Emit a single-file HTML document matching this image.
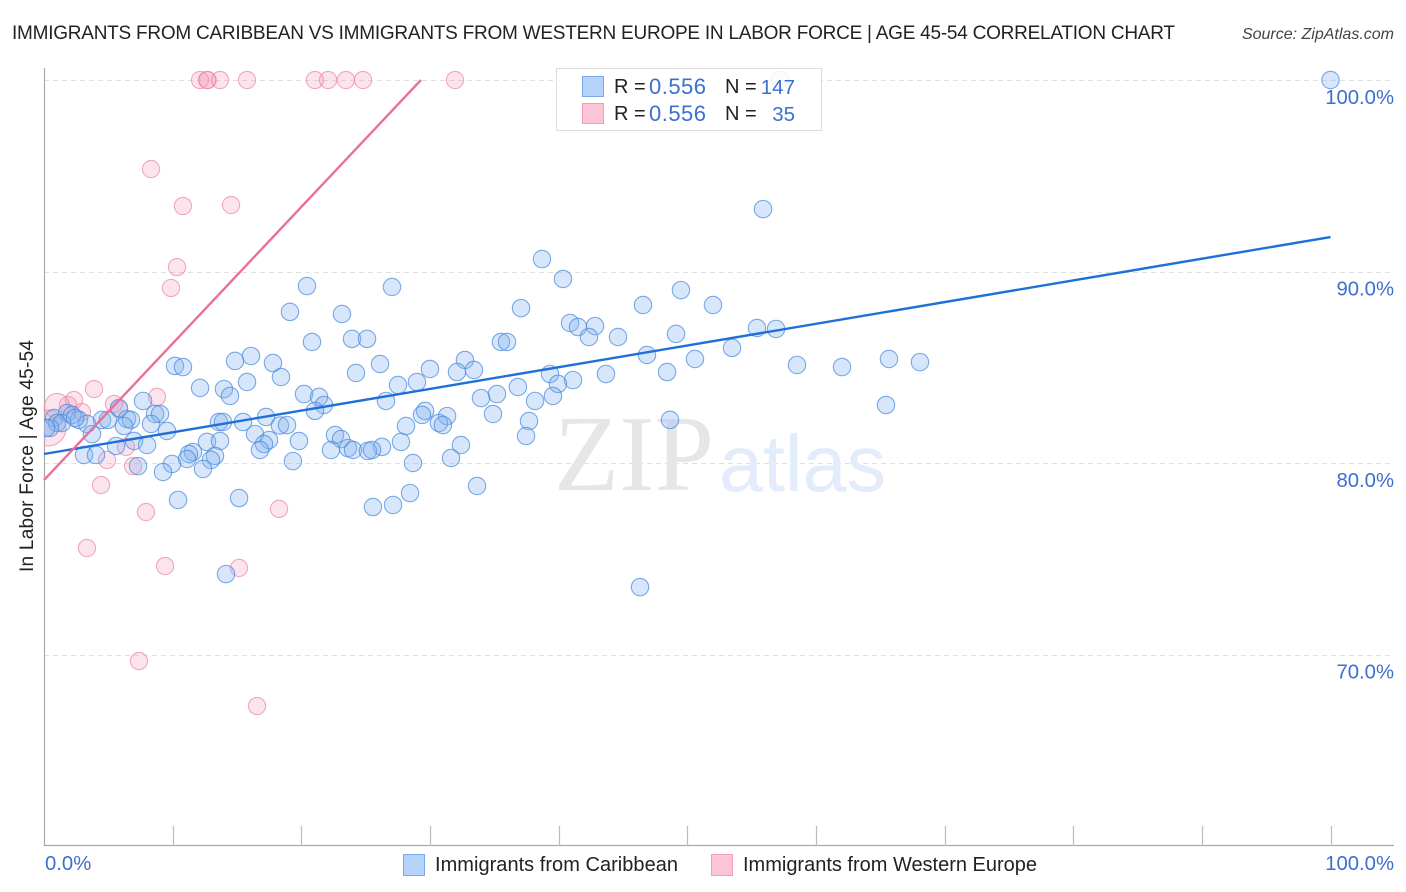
<!DOCTYPE html>
<html lang="en">
<head>
<meta charset="utf-8">
<title>Immigrants from Caribbean vs Immigrants from Western Europe in Labor Force | Age 45-54 Correlation Chart</title>
<style>
html,body{margin:0;padding:0;background:#fff;width:1406px;height:892px;overflow:hidden}
svg{display:block;font-family:"Liberation Sans",sans-serif}
.tick-label{fill:#3c6fd1;font-size:20.3px}
.legend-text{fill:#222;font-size:20px}
.legend-val{fill:#3c6fd1;font-size:22px}
.legend-n{fill:#3c6fd1;font-size:20.5px}
.bottom-text{fill:#222;font-size:20px}
</style>
</head>
<body>
<svg id="chart" xmlns="http://www.w3.org/2000/svg" width="1406" height="892" viewBox="0 0 1406 892">
  <defs>
    <clipPath id="plot-clip"><rect x="44" y="60" width="1350" height="786"/></clipPath>
  </defs>
  <text x="12" y="39" font-size="19" fill="#222" textLength="1163">IMMIGRANTS FROM CARIBBEAN VS IMMIGRANTS FROM WESTERN EUROPE IN LABOR FORCE | AGE 45-54 CORRELATION CHART</text>
  <text x="1394" y="39" font-size="16" font-style="italic" fill="#444" text-anchor="end">Source: ZipAtlas.com</text>

  <g id="grid"></g>

  <text x="554" y="490" font-family="'Liberation Serif',serif" font-size="108" fill="#e6e6e6" textLength="160" lengthAdjust="spacingAndGlyphs">ZIP</text>
  <text x="719" y="491" font-size="80" fill="#e3ecfa" textLength="167" lengthAdjust="spacingAndGlyphs">atlas</text>

  <g id="axes"></g>
  <g clip-path="url(#plot-clip)">
    <g id="pink-points"></g>
    <g id="blue-points"></g>
  </g>
  <g id="lines"></g>
  <g id="labels"></g>

  <text transform="translate(33,456) rotate(-90)" font-size="19" fill="#222" text-anchor="middle" textLength="232">In Labor Force | Age 45-54</text>

  <g>
    <rect x="556.5" y="68.5" width="265" height="62" fill="#fff" fill-opacity="0.88" stroke="#dcdcdc"/>
    <rect x="582.5" y="76.5" width="21" height="20" fill="#b5d2f8" stroke="#78a9ea"/>
    <text class="legend-text" x="614" y="93">R =</text>
    <text class="legend-val" x="649" y="94" textLength="57">0.556</text>
    <text class="legend-text" x="725" y="93">N =</text>
    <text class="legend-n" x="795" y="94" text-anchor="end">147</text>
    <rect x="582.5" y="103.5" width="21" height="20" fill="#fcc5d6" stroke="#f39db8"/>
    <text class="legend-text" x="614" y="120">R =</text>
    <text class="legend-val" x="649" y="121" textLength="57">0.556</text>
    <text class="legend-text" x="725" y="120">N =</text>
    <text class="legend-n" x="795" y="121" text-anchor="end">35</text>
  </g>

  <g>
    <rect x="403.5" y="854.5" width="21" height="21" fill="#b5d2f8" stroke="#78a9ea"/>
    <text class="bottom-text" x="435" y="871" textLength="243">Immigrants from Caribbean</text>
    <rect x="711.5" y="854.5" width="21" height="21" fill="#fcc5d6" stroke="#f39db8"/>
    <text class="bottom-text" x="743" y="871" textLength="294">Immigrants from Western Europe</text>
  </g>
</svg>
<script>
const caribbeanX = [100,55.89,38.71,40.34,20.44,27.05,49.51,46.56,52,37.08,19.12,23.16,40.89,41.51,42.83,55.42,56.9,49.13,42.36,44.62,23.94,25.11,20.83,35.52,35.99,53.48,46.87,16.09,14.85,17.8,50.6,65.68,68.09,58.53,62.03,32.72,26.12,10.18,10.8,30,32.1,33.42,24.25,39.33,43.68,48.43,18.42,15.78,28.99,41.12,39.95,27.52,36.84,12.13,13.99,14.46,20.21,21.38,35.21,39.56,33.97,26.58,38.17,7.7,21.76,65.45,21.06,5.83,1.79,2.18,8.63,9.02,29.62,29.38,34.9,31.33,17.26,37.7,48.66,2.72,4.51,4.97,6.45,6.76,15.47,13.6,13.91,8.32,0.78,1.01,1.4,0.47,3.34,6.22,18.34,18.89,28.14,30.7,31.01,9.56,3.73,22.62,16.4,37.47,23.09,17.49,12.67,13.68,19.82,27.75,7,17.1,32.41,5.6,8.01,26.27,23.63,22.31,24.02,16.79,25.18,25.5,11.58,3.11,4.04,11.27,13.29,12.98,11.12,31.64,19.35,28.68,9.95,7.31,12.36,9.25,33.66,28.45,10.42,15.16,27.13,25.57,14.15,46.33,57.21,0.16,2.41];
const caribbeanY = [100,93.26,90.65,89.61,89.24,89.19,89.03,88.25,88.25,88.09,87.89,87.78,87.31,87.1,87.15,87.05,87,86.74,86.58,86.58,86.48,86.48,86.32,86.32,86.32,86.01,85.64,85.59,85.33,85.22,85.43,85.43,85.27,85.12,85.01,85.38,85.17,85.07,85.01,84.91,84.75,84.86,84.7,84.65,84.65,84.75,84.49,84.23,84.23,84.33,84.13,84.07,83.97,83.92,83.86,83.5,83.6,83.45,83.6,83.5,83.39,83.24,83.24,83.24,83.03,83.03,82.72,82.87,82.61,82.51,82.56,82.56,82.72,82.51,82.56,82.45,82.4,82.19,82.25,82.25,82.25,82.25,82.3,82.25,82.14,82.14,82.14,82.04,82.35,82.09,82.09,81.83,82.04,81.93,81.96,81.98,81.93,82.09,81.98,81.67,81.51,81.46,81.51,81.41,81.25,81.2,81.1,81.15,81.15,81.1,81.15,80.99,80.94,80.89,80.94,80.84,80.78,80.68,80.68,80.68,80.63,80.68,80.57,80.42,80.42,80.47,80.37,80.16,80.21,80.26,80.1,80,79.95,79.84,79.69,79.53,78.8,78.43,78.07,78.17,77.81,77.7,74.2,73.52,100,81.83,82.35];
const europeX = [12.13,12.67,12.72,13.68,15.78,21.06,22.08,23.47,24.8,31.95,8.32,10.8,14.54,10.34,9.87,3.89,8.78,2.33,5.44,1.87,5.83,2.95,1.01,0.31,6.92,6.37,4.9,4.43,7.93,18.27,3.34,9.41,15.16,7.38,16.56];
const europeY = [100,100,100,100,100,100,100,100,100,100,95.35,93.42,93.47,90.23,89.14,83.86,83.45,83.29,83.08,83.03,82.82,82.66,82.98,81.83,79.84,80.84,80.16,78.85,77.44,77.6,75.56,74.62,74.52,69.66,67.31];
const europeWeight = [1,1,1,1,1,1,1,1,1,1,1,1,1,1,1,1,1,1,1,1,1,1,1.45,2.1,1,1,1,1,1,1,1,1,1,1,1];
const caribbeanTrendX = [0,100];
const caribbeanTrendY = [80.47,91.8];
const europeTrendX = [0,29.3];
const europeTrendY = [79.11,100];
const yTicks = [100,90,80,70];
const yTickLabels = ["100.0%","90.0%","80.0%","70.0%"];
const xTicks = [0,10,20,30,40,50,60,70,80,90,100];
const xEndLabels = ["0.0%","100.0%"];

const NS = "http://www.w3.org/2000/svg";
const xScale = v => 44 + v * 12.865;
const yScale = v => 80 + (100 - v) * 19.15;
function make(tag, parent, attrs) {
  const el = document.createElementNS(NS, tag);
  Object.keys(attrs).forEach(k => el.setAttribute(k, attrs[k]));
  parent.appendChild(el);
  return el;
}
const grid = document.getElementById("grid");
const axes = document.getElementById("axes");
const labels = document.getElementById("labels");
const pinkG = document.getElementById("pink-points");
const blueG = document.getElementById("blue-points");
const linesG = document.getElementById("lines");

yTicks.forEach((t, i) => {
  const y = Math.round(yScale(t)) + 0.5;
  const line = make("line", grid, {x1: 44, x2: 1394, y1: y, y2: y, stroke: "#e0e0e0", "stroke-width": 1, "stroke-dasharray": "5 4"});
  
  
  const label = make("text", labels, {x: 1394, y: yScale(t) + 24, "text-anchor": "end", "class": "tick-label"});
  label.textContent = yTickLabels[i];
  
  
});

const yAxis = make("line", axes, {x1: 44.5, x2: 44.5, y1: 68, y2: 846, stroke: "#aaaaaa", "stroke-width": 1.2});


const xAxis = make("line", axes, {x1: 44, x2: 1394, y1: 845.5, y2: 845.5, stroke: "#aaaaaa", "stroke-width": 1.2});



xTicks.forEach(t => {
  if (t === 0) return;
  const x = Math.round(xScale(t)) + 0.5;
  const tick = make("line", axes, {x1: x, x2: x, y1: 826, y2: 846, stroke: "#bbbbbb", "stroke-width": 1.2});
  
  
});

const xStart = make("text", labels, {x: xScale(0) + 1, y: 870, "class": "tick-label"});
xStart.textContent = xEndLabels[0];


const xEnd = make("text", labels, {x: 1394, y: 870, "text-anchor": "end", "class": "tick-label"});
xEnd.textContent = xEndLabels[1];



europeX.forEach((v, i) => {
  const c = make("circle", pinkG, {cx: xScale(v), cy: yScale(europeY[i]), r: 8.6 * europeWeight[i], fill: "#f48fb1", "fill-opacity": 0.24, stroke: "#ee85a8", "stroke-opacity": 0.7, "stroke-width": 1.1});
  
  
});

caribbeanX.forEach((v, i) => {
  const c = make("circle", blueG, {cx: xScale(v), cy: yScale(caribbeanY[i]), r: 8.7, fill: "#83b0ee", "fill-opacity": 0.32, stroke: "#4a8bdd", "stroke-opacity": 0.72, "stroke-width": 1.1});
  
  
});

const blueLine = make("line", linesG, {x1: xScale(caribbeanTrendX[0]), y1: yScale(caribbeanTrendY[0]), x2: xScale(caribbeanTrendX[1]), y2: yScale(caribbeanTrendY[1]), stroke: "#1f6fd8", "stroke-width": 2.4});


const pinkLine = make("line", linesG, {x1: xScale(europeTrendX[0]), y1: yScale(europeTrendY[0]), x2: xScale(europeTrendX[1]), y2: yScale(europeTrendY[1]), stroke: "#ea6f9c", "stroke-width": 2.4});


</script>
</body>
</html>
